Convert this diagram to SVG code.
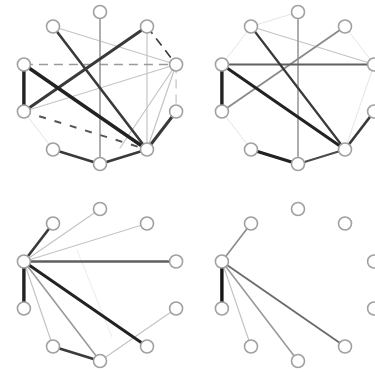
<svg xmlns="http://www.w3.org/2000/svg" width="375" height="372" viewBox="0 0 375 372">
<style>
.n{fill:#fff;stroke:#a0a0a0;stroke-width:1.6}
.e{fill:none;stroke-linecap:round}
.d1{stroke:#222;stroke-width:3.4}
.d2{stroke:#3a3a3a;stroke-width:2.6}
.m{stroke:#606060;stroke-width:2}
.g{stroke:#9a9a9a;stroke-width:1.6}
.l{stroke:#c4c4c4;stroke-width:1.2}
.f{stroke:#e4e4e4;stroke-width:1}
.dash{stroke-dasharray:9 6;stroke-linecap:butt}
</style>
<rect width="375" height="372" fill="#fff"/>

<g id="panel1" transform="translate(100,88)">
<g id="p1-edges" class="e">
<line class="f" x1="-76.1" y1="23.5" x2="-47" y2="61.5"/>
<line class="l" x1="76.1" y1="-23.5" x2="47" y2="61.5"/>
<line class="l" x1="76.1" y1="-23.5" x2="20" y2="60"/>
<line class="l" x1="47" y1="-61.5" x2="47" y2="61.5"/>
<line class="l dash" x1="76.1" y1="-23.5" x2="76.1" y2="23.5"/>
<line class="l" x1="-47" y1="-61.5" x2="76.1" y2="-23.5"/>
<line class="l" x1="-76.1" y1="23.5" x2="76.1" y2="-23.5"/>
<line class="g dash" x1="-76.1" y1="-23.5" x2="76.1" y2="-23.5"/>
<line class="g" x1="0" y1="-76" x2="0" y2="76"/>
<line class="dash" x1="-76.1" y1="23.5" x2="47" y2="61.5" style="stroke:#555;stroke-width:2;stroke-dasharray:7 9"/>
<line class="d2 dash" x1="47" y1="-61.5" x2="76.1" y2="-23.5" style="stroke-width:1.6"/>
<line class="d2" x1="-47" y1="-61.5" x2="47" y2="61.5"/>
<line class="d2" x1="47" y1="-61.5" x2="-76.1" y2="23.5" style="stroke-width:3"/>
<line class="d1" x1="-76.1" y1="-23.5" x2="47" y2="61.5"/>
<line class="d1" x1="-76.1" y1="-23.5" x2="-76.1" y2="23.5"/>
<line class="d2" x1="76.1" y1="23.5" x2="47" y2="61.5" style="stroke-width:3"/>
<line class="d2" x1="47" y1="61.5" x2="0" y2="76"/>
<line class="d2" x1="-47" y1="61.5" x2="0" y2="76"/>
</g>
<g id="p1-n0"><circle class="n" cx="0" cy="-76" r="6.5"/></g>
<g id="p1-n1"><circle class="n" cx="47" cy="-61.5" r="6.5"/></g>
<g id="p1-n2"><circle class="n" cx="76.1" cy="-23.5" r="6.5"/></g>
<g id="p1-n3"><circle class="n" cx="76.1" cy="23.5" r="6.5"/></g>
<g id="p1-n4"><circle class="n" cx="47" cy="61.5" r="6.5"/></g>
<g id="p1-n5"><circle class="n" cx="0" cy="76" r="6.5"/></g>
<g id="p1-n6"><circle class="n" cx="-47" cy="61.5" r="6.5"/></g>
<g id="p1-n7"><circle class="n" cx="-76.1" cy="23.5" r="6.5"/></g>
<g id="p1-n8"><circle class="n" cx="-76.1" cy="-23.5" r="6.5"/></g>
<g id="p1-n9"><circle class="n" cx="-47" cy="-61.5" r="6.5"/></g>
</g>

<g id="panel2" transform="translate(298,88)">
<g id="p2-edges" class="e">
<line class="f" x1="-76.1" y1="-23.5" x2="-47" y2="-61.5"/>
<line class="f" x1="-76.1" y1="23.5" x2="-47" y2="61.5"/>
<line class="f" x1="47" y1="-61.5" x2="76.1" y2="-23.5"/>
<line class="f" x1="76.1" y1="-23.5" x2="47" y2="61.5"/>
<line class="f" x1="-47" y1="-61.5" x2="0" y2="-76"/>
<line class="l" x1="-47" y1="-61.5" x2="76.1" y2="-23.5"/>
<line class="g" x1="0" y1="-76" x2="0" y2="76"/>
<line class="g" x1="47" y1="-61.5" x2="-76.1" y2="23.5" style="stroke:#8a8a8a;stroke-width:1.8"/>
<line class="m" x1="-76.1" y1="-23.5" x2="76.1" y2="-23.5"/>
<line class="d2" x1="-47" y1="-61.5" x2="47" y2="61.5" style="stroke-width:2.2"/>
<line class="d1" x1="-76.1" y1="-23.5" x2="47" y2="61.5" style="stroke-width:3"/>
<line class="d1" x1="-76.1" y1="-23.5" x2="-76.1" y2="23.5"/>
<line class="d2" x1="76.1" y1="23.5" x2="47" y2="61.5"/>
<line class="m" x1="47" y1="61.5" x2="0" y2="76" style="stroke:#4a4a4a"/>
<line class="d1" x1="-47" y1="61.5" x2="0" y2="76"/>
</g>
<g id="p2-n0"><circle class="n" cx="0" cy="-76" r="6.5"/></g>
<g id="p2-n1"><circle class="n" cx="47" cy="-61.5" r="6.5"/></g>
<g id="p2-n2"><circle class="n" cx="76.1" cy="-23.5" r="6.5"/></g>
<g id="p2-n3"><circle class="n" cx="76.1" cy="23.5" r="6.5"/></g>
<g id="p2-n4"><circle class="n" cx="47" cy="61.5" r="6.5"/></g>
<g id="p2-n5"><circle class="n" cx="0" cy="76" r="6.5"/></g>
<g id="p2-n6"><circle class="n" cx="-47" cy="61.5" r="6.5"/></g>
<g id="p2-n7"><circle class="n" cx="-76.1" cy="23.5" r="6.5"/></g>
<g id="p2-n8"><circle class="n" cx="-76.1" cy="-23.5" r="6.5"/></g>
<g id="p2-n9"><circle class="n" cx="-47" cy="-61.5" r="6.5"/></g>
</g>

<g id="panel3" transform="translate(100,285)">
<g id="p3-edges" class="e">
<line class="f" x1="-23" y1="-35" x2="12" y2="52" style="stroke:#ececec"/>
<line class="l" x1="0" y1="76" x2="76.1" y2="23.5"/>
<line class="l" x1="-76.1" y1="-23.5" x2="0" y2="-76"/>
<line class="l" x1="-76.1" y1="-23.5" x2="47" y2="-61.5"/>
<line class="l" x1="-76.1" y1="-23.5" x2="-47" y2="61.5"/>
<line class="g" x1="-76.1" y1="-23.5" x2="0" y2="76"/>
<line class="m" x1="-76.1" y1="-23.5" x2="76.1" y2="-23.5" style="stroke-width:2.6"/>
<line class="d2" x1="-76.1" y1="-23.5" x2="-47" y2="-61.5"/>
<line class="d1" x1="-76.1" y1="-23.5" x2="47" y2="61.5" style="stroke-width:3"/>
<line class="d1" x1="-76.1" y1="-23.5" x2="-76.1" y2="23.5"/>
<line class="d2" x1="-47" y1="61.5" x2="0" y2="76"/>
</g>
<g id="p3-n0"><circle class="n" cx="0" cy="-76" r="6.5"/></g>
<g id="p3-n1"><circle class="n" cx="47" cy="-61.5" r="6.5"/></g>
<g id="p3-n2"><circle class="n" cx="76.1" cy="-23.5" r="6.5"/></g>
<g id="p3-n3"><circle class="n" cx="76.1" cy="23.5" r="6.5"/></g>
<g id="p3-n4"><circle class="n" cx="47" cy="61.5" r="6.5"/></g>
<g id="p3-n5"><circle class="n" cx="0" cy="76" r="6.5"/></g>
<g id="p3-n6"><circle class="n" cx="-47" cy="61.5" r="6.5"/></g>
<g id="p3-n7"><circle class="n" cx="-76.1" cy="23.5" r="6.5"/></g>
<g id="p3-n8"><circle class="n" cx="-76.1" cy="-23.5" r="6.5"/></g>
<g id="p3-n9"><circle class="n" cx="-47" cy="-61.5" r="6.5"/></g>
</g>

<g id="panel4" transform="translate(298,285)">
<g id="p4-edges" class="e">
<line class="l" x1="-76.1" y1="-23.5" x2="-47" y2="61.5"/>
<line class="g" x1="-76.1" y1="-23.5" x2="0" y2="76"/>
<line class="g" x1="-76.1" y1="-23.5" x2="-47" y2="-61.5" style="stroke:#8a8a8a"/>
<line class="m" x1="-76.1" y1="-23.5" x2="47" y2="61.5" style="stroke:#6a6a6a;stroke-width:1.8"/>
<line class="d1" x1="-76.1" y1="-23.5" x2="-76.1" y2="23.5" style="stroke:#151515"/>
</g>
<g id="p4-n0"><circle class="n" cx="0" cy="-76" r="6.5"/></g>
<g id="p4-n1"><circle class="n" cx="47" cy="-61.5" r="6.5"/></g>
<g id="p4-n2"><circle class="n" cx="76.1" cy="-23.5" r="6.5"/></g>
<g id="p4-n3"><circle class="n" cx="76.1" cy="23.5" r="6.5"/></g>
<g id="p4-n4"><circle class="n" cx="47" cy="61.5" r="6.5"/></g>
<g id="p4-n5"><circle class="n" cx="0" cy="76" r="6.5"/></g>
<g id="p4-n6"><circle class="n" cx="-47" cy="61.5" r="6.5"/></g>
<g id="p4-n7"><circle class="n" cx="-76.1" cy="23.5" r="6.5"/></g>
<g id="p4-n8"><circle class="n" cx="-76.1" cy="-23.5" r="6.5"/></g>
<g id="p4-n9"><circle class="n" cx="-47" cy="-61.5" r="6.5"/></g>
</g>
</svg>
